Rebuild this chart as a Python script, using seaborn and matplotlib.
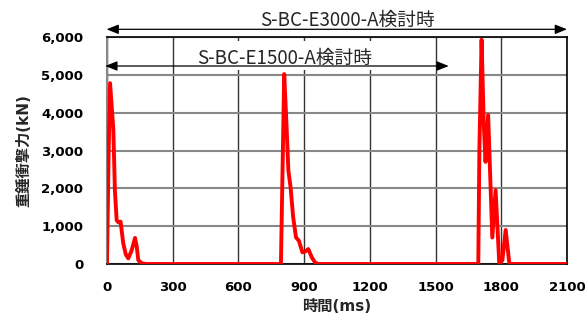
import matplotlib
matplotlib.use("Agg")
import matplotlib.pyplot as plt
import seaborn as sns
import pandas as pd
from matplotlib.patches import Rectangle
from matplotlib.ticker import FuncFormatter

# ---- data ----
time_ms = [0, 7, 14, 29, 36, 44, 52, 62, 74, 86, 97, 112, 128, 136, 143, 158, 180,
           794, 809, 820, 828, 838, 850, 863, 876, 892, 905, 919, 935, 950, 963,
           1695, 1700, 1710, 1720, 1728, 1740, 1759, 1774, 1791, 1805, 1820, 1837, 2100]
force_kN = [0, 2800, 4780, 3540, 1955, 1160, 1100, 1120, 550, 250, 150, 350, 690, 450, 100, 20, 0,
            0, 5020, 3610, 2470, 2030, 1230, 700, 615, 310, 330, 395, 175, 40, 0,
            0, 3000, 5930, 3700, 2700, 3940, 700, 1950, 0, 100, 900, 0, 0]
x_ticks = [0, 300, 600, 900, 1200, 1500, 1800, 2100]
y_ticks = [0, 1000, 2000, 3000, 4000, 5000, 6000]
label_e3000 = "S-BC-E3000-A検討時"
label_e1500 = "S-BC-E1500-A検討時"
xlabel = "時間(ms)"
ylabel = "重錘衝撃力(kN)"

df = pd.DataFrame({"t": time_ms, "f": force_kN})

sns.set_theme(style="white")
plt.rcParams["font.family"] = ["DejaVu Sans", "Noto Sans CJK JP"]

fig = plt.figure(figsize=(5.85, 3.2), dpi=100)
ax = fig.add_axes([107/585, 1-264/320, (567-107)/585, (264-37)/320])

sns.lineplot(data=df, x="t", y="f", color="#ff0000", lw=2.8, sort=False, ax=ax, zorder=3)

ax.set_xlim(0, 2100)
ax.set_ylim(0, 6000)
ax.set_xticks(x_ticks)
ax.set_yticks(y_ticks)
ax.yaxis.set_major_formatter(FuncFormatter(lambda v, p: f"{int(v):,}"))
ax.tick_params(axis="both", length=0, labelsize=9.5, colors="black")
ax.tick_params(axis="y", pad=17)
ax.tick_params(axis="x", pad=12)
for lab in ax.get_xticklabels() + ax.get_yticklabels():
    lab.set_fontweight("bold")

ax.set_axisbelow(True)
ax.yaxis.grid(True, color="#888888", lw=1.5)
ax.xaxis.grid(True, color="#333333", lw=1.0)

for s in ["top", "right", "bottom"]:
    ax.spines[s].set_color("black")
    ax.spines[s].set_linewidth(1.2)
ax.spines["left"].set_color("#888888")
ax.spines["left"].set_linewidth(1.5)

ax.set_xlabel(xlabel, fontsize=11, fontweight="bold",
              family=["DejaVu Sans", "Noto Sans CJK JP"])
ax.set_ylabel(ylabel, fontsize=11, fontweight="bold",
              family=["DejaVu Sans", "Noto Sans CJK JP"])
ax.xaxis.set_label_coords(0.5, -0.155)
ax.yaxis.set_label_coords(-0.165, 0.5)

# white box behind the E1500 label
ax.add_patch(Rectangle((340, 5120), 1140, 780, facecolor="white", edgecolor="none",
                       zorder=1.5))

arrow_kw = dict(arrowstyle="<|-|>,head_length=0.6,head_width=0.24", color="black",
                lw=0.9, mutation_scale=12, shrinkA=0, shrinkB=0)
# E3000 arrow (above axes)
y3000 = (264 - 29.3) / 227 * 6000
ax.annotate("", xy=(-2, y3000), xytext=(2100, y3000), xycoords="data",
            arrowprops=arrow_kw, annotation_clip=False, zorder=4)
ax.text(1100, (264 - 20.5) / 227 * 6000, label_e3000, ha="center", va="center",
        fontsize=13.5, family=["Noto Sans CJK JP", "DejaVu Sans"], clip_on=False, zorder=4)
# E1500 arrow
y1500 = (264 - 66) / 227 * 6000
ax.annotate("", xy=(-8, y1500), xytext=(1560, y1500), xycoords="data",
            arrowprops=arrow_kw, annotation_clip=False, zorder=4)
ax.text(810, (264 - 58) / 227 * 6000, label_e1500, ha="center", va="center",
        fontsize=13.5, family=["Noto Sans CJK JP", "DejaVu Sans"], clip_on=False, zorder=4)

fig.savefig("out.png", dpi=100)
